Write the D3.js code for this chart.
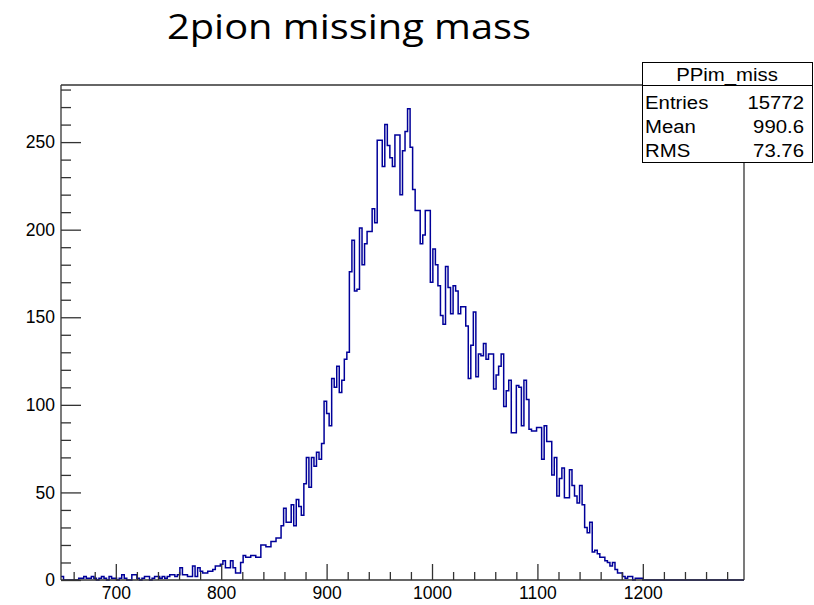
<!DOCTYPE html>
<html>
<head>
<meta charset="utf-8">
<script src="https://cdn.jsdelivr.net/npm/d3@7"></script>
<style>
  body { margin: 0; background: #fff; }
  svg text { font-family: "Liberation Sans", Arial, sans-serif; fill: #000; }
</style>
</head>
<body>
<div id="chart"></div>
<script>
const title = "2pion missing mass";
const histName = "PPim_miss";
const statLabels = ["Entries", "Mean", "RMS"];
const statValues = ["15772", "990.6", "73.76"];

// histogram binning (low edge of first bin, bin width) and bin contents
const binStart = 648;
const binWidth = 2.4;
const counts = [
  2, 0, 0, 0, 0, 0, 0, 1, 1, 2,
  1, 1, 2, 1, 0, 1, 2, 1, 0, 2,
  1, 1, 0, 1, 3, 1, 0, 0, 3, 3,
  1, 0, 1, 2, 2, 0, 1, 2, 2, 1,
  2, 1, 2, 3, 3, 2, 3, 7, 3, 3,
  2, 2, 8, 2, 7, 5, 4, 4, 5, 5,
  6, 8, 8, 9, 11, 7, 7, 11, 7, 4,
  4, 10, 14, 13, 13, 14, 14, 13, 13, 20,
  20, 19, 19, 22, 22, 24, 24, 31, 41, 33,
  33, 43, 31, 46, 42, 37, 55, 70, 53, 70,
  65, 73, 69, 78, 102, 95, 88, 115, 110, 122,
  107, 114, 126, 130, 176, 194, 165, 166, 201, 180,
  192, 199, 199, 212, 204, 251, 251, 236, 260, 248,
  241, 236, 254, 254, 220, 245, 256, 269, 247, 223,
  211, 211, 192, 197, 211, 211, 170, 189, 180, 168,
  151, 146, 179, 167, 152, 168, 165, 152, 156, 156,
  145, 115, 134, 153, 116, 129, 128, 135, 126, 129,
  129, 109, 117, 122, 129, 99, 108, 114, 84, 84,
  111, 110, 88, 114, 103, 86, 85, 85, 87, 87,
  69, 88, 79, 79, 60, 70, 48, 58, 64, 47,
  47, 63, 54, 48, 44, 54, 43, 30, 27, 33,
  16, 17, 15, 13, 13, 11, 10, 8, 10, 6,
  4, 4, 2, 1, 2, 2, 0, 1, 1, 1,
  0, 0, 0, 0, 0, 0, 0, 0, 0, 0,
  0, 0, 0, 0, 0, 0, 0, 0, 0, 0,
  0, 0, 0, 0, 0, 0, 0, 0, 0, 0,
  0, 0, 0, 0, 0, 0, 0, 0, 0, 0
];

const xMajorTicks = [700, 800, 900, 1000, 1100, 1200];
const xMinorTicks = [660, 680, 720, 740, 760, 780, 820, 840, 860, 880, 920, 940, 960, 980,
  1020, 1040, 1060, 1080, 1120, 1140, 1160, 1180, 1220, 1240, 1260, 1280];
const yMajorTicks = [0, 50, 100, 150, 200, 250];
const yMinorTicks = [10, 20, 30, 40, 60, 70, 80, 90, 110, 120, 130, 140, 160, 170, 180, 190,
  210, 220, 230, 240, 260, 270, 280];

const width = 814;
const height = 605;
const frame = { left: 61, top: 85, right: 744, bottom: 580 };
const axisColor = "#333";
const lineColor = "#000099";

const svg = d3.select("#chart").append("svg")
  .attr("width", width)
  .attr("height", height);

const x = d3.scaleLinear()
  .domain([binStart, binStart + binWidth * counts.length])
  .range([frame.left, frame.right]);

const y = d3.scaleLinear()
  .domain([0, 282.6])
  .range([frame.bottom, frame.top]);

// title
svg.append("text")
  .attr("x", 349)
  .attr("y", 39)
  .attr("text-anchor", "middle")
  .attr("textLength", 364)
  .attr("lengthAdjust", "spacingAndGlyphs")
  .style("font-family", "'Open Sans', Lato, sans-serif")
  .style("font-weight", 400)
  .style("font-size", "35px")
  .text(title);

// histogram outline
const pts = counts.map((c, i) => [binStart + i * binWidth, c]);
pts.push([binStart + counts.length * binWidth, counts[counts.length - 1]]);

const step = d3.line()
  .x((d) => x(d[0]))
  .y((d) => y(d[1]))
  .curve(d3.curveStepAfter);

svg.append("path")
  .datum(pts)
  .attr("fill", "none")
  .attr("stroke", lineColor)
  .attr("stroke-width", 1.5)
  .attr("d", step);

// minor ticks
const styleTicks = (g) => {
  g.select(".domain").remove();
  g.selectAll(".tick line").attr("stroke", axisColor).attr("stroke-width", 1.3);
};

svg.append("g")
  .attr("transform", `translate(0,${frame.bottom})`)
  .call(d3.axisBottom(x).tickValues(xMinorTicks).tickSizeInner(-8).tickSizeOuter(0).tickFormat(""))
  .call(styleTicks);

svg.append("g")
  .attr("transform", `translate(${frame.left},0)`)
  .call(d3.axisLeft(y).tickValues(yMinorTicks).tickSizeInner(-10).tickSizeOuter(0).tickFormat(""))
  .call(styleTicks);

// major ticks + labels
const xAxis = svg.append("g")
  .attr("transform", `translate(0,${frame.bottom})`)
  .call(d3.axisBottom(x).tickValues(xMajorTicks).tickFormat(d3.format("d"))
    .tickSizeInner(-16).tickSizeOuter(0).tickPadding(7))
  .call(styleTicks);
xAxis.selectAll("text")
  .style("font-family", "'Liberation Sans', Arial, sans-serif")
  .style("font-size", "17.5px")
  .attr("fill", "#111");

const yAxis = svg.append("g")
  .attr("transform", `translate(${frame.left},0)`)
  .call(d3.axisLeft(y).tickValues(yMajorTicks).tickFormat(d3.format("d"))
    .tickSizeInner(-20).tickSizeOuter(0).tickPadding(6))
  .call(styleTicks);
yAxis.selectAll("text")
  .style("font-family", "'Liberation Sans', Arial, sans-serif")
  .style("font-size", "17.5px")
  .attr("fill", "#111");

// frame
const statBox = { x: 642, y: 62, w: 171, h: 100 };
const frameLines = [
  [frame.left, frame.top, frame.left, frame.bottom],
  [frame.left, frame.bottom, frame.right, frame.bottom],
  [frame.left, frame.top, statBox.x, frame.top],
  [frame.right, statBox.y + statBox.h, frame.right, frame.bottom]
];
svg.append("g")
  .selectAll("line")
  .data(frameLines)
  .join("line")
  .attr("x1", (d) => d[0])
  .attr("y1", (d) => d[1])
  .attr("x2", (d) => d[2])
  .attr("y2", (d) => d[3])
  .attr("stroke", axisColor)
  .attr("stroke-width", 1.3);

// stats box
const stats = svg.append("g");
stats.append("rect")
  .attr("x", statBox.x + 0.5)
  .attr("y", statBox.y + 0.5)
  .attr("width", statBox.w - 1)
  .attr("height", statBox.h)
  .attr("fill", "#fff")
  .attr("stroke", "#000")
  .attr("stroke-width", 1);
stats.append("line")
  .attr("x1", statBox.x)
  .attr("x2", statBox.x + statBox.w)
  .attr("y1", frame.top + 0.5)
  .attr("y2", frame.top + 0.5)
  .attr("stroke", "#000");
stats.append("text")
  .attr("class", "stat")
  .attr("x", 727)
  .attr("y", 81)
  .attr("text-anchor", "middle")
  .text(histName);

const rowY = [109, 133, 157];
stats.selectAll(".lab")
  .data(statLabels)
  .join("text")
  .attr("class", "lab stat")
  .attr("x", 645)
  .attr("y", (d, i) => rowY[i])
  .text((d) => d);
stats.selectAll(".val")
  .data(statValues)
  .join("text")
  .attr("class", "val stat")
  .attr("x", 804)
  .attr("y", (d, i) => rowY[i])
  .attr("text-anchor", "end")
  .text((d) => d);

// the stats font in the reference is a bit wider than Liberation Sans
stats.selectAll(".stat")
  .style("font-size", "18px")
  .each(function () {
    const w = this.getComputedTextLength();
    d3.select(this).attr("textLength", w * 1.13).attr("lengthAdjust", "spacingAndGlyphs");
  });
</script>
</body>
</html>
